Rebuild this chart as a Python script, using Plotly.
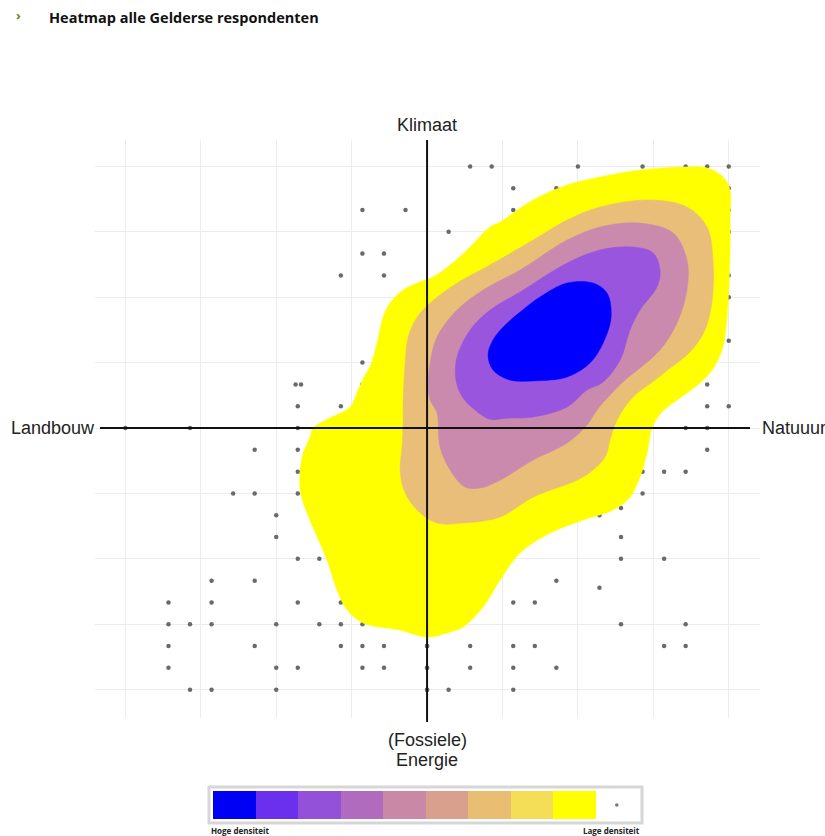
import plotly.graph_objects as go

# ---------------- data ----------------
# respondent dots (x: Landbouw(-) .. Natuur(+), y: Energie(-) .. Klimaat(+))
dots_x = [-3, -1, -3, -2, -4, -2, -3, -6.1, -5.85, -3, -6, -4, -14, -11, -6,
          2, 3, 7, 10, 12, 13, 14, 4, 6, 14, 4, 14, 1, 14, 14, 14, 14, 13, 13, 14, 12, 13,
          13, 10, 11, 12, 10, 9, 8, 9, 9, 11, 6, 8, 4, 5, 9, 12, 0, 2, 4, 5, 11, 12,
          0, 2, 4, 6, 0, 1, 4,
          -8, -6, -6, -9, -8, -6, -7, -7, -6, -5, -10, -8, -12, -10, -6, -4,
          -12, -11, -10, -7, -5, -4, -3, -12, -8, -4, -3, -2, 0,
          -12, -7, -6, -3, -2, 0, -11, -10, -7, 0]
dots_y = [10, 10, 8, 8, 7, 7, 3, 2, 2, 2, 1, 1, 0, 0, 0,
          12, 12, 12, 12, 12, 12, 12, 11, 11, 11, 10, 10, 9, 9, 7, 6, 4, 2, 1, 1, 0, 0,
          -1, -2, -2, -2, -3, -3.67, -4, -5, -6, -6, -7, -7.33, -8, -8, -9, -9, -10, -10, -10, -10, -10, -10,
          -11, -11, -11, -11, -12, -12, -12,
          -1, -1, -2, -3, -3, -3, -4, -5, -6, -6, -7, -7, -8, -8, -8, -8,
          -9, -9, -9, -9, -9, -9, -9, -10, -10, -10, -10, -10, -10,
          -11, -11, -11, -11, -11, -11, -12, -12, -12, -12]

# density contour outlines (low -> high density)
yellow_x = [-3.57, -3.20, -2.88, -2.65, -2.32, -2.04, -1.72, -1.11, -0.46, 0.28, 1.07, 1.86, 2.92, 3.39,
            4.92, 6.50, 8.03, 9.88, 11.88, 12.99, 13.74, 14.06, 14.06, 14.06, 13.92, 13.69, 13.23,
            12.67, 11.74, 10.90, 10.44, 10.21, 9.88, 9.42, 8.63, 7.24, 5.71, 4.32, 3.39, 2.60, 1.67,
            0.93, 0.05, -1.25, -2.97, -3.71, -4.18, -4.64, -5.10, -5.57, -5.89, -5.80, -5.43, -5.29,
            -4.50, -3.57]
yellow_y = [0.96, 1.74, 2.43, 2.80, 3.90, 5.09, 5.73, 6.33, 6.65, 6.93, 7.48, 8.17, 9.22, 9.45,
            10.46, 11.15, 11.51, 11.83, 11.97, 11.93, 11.51, 10.92, 9.68, 8.17, 5.09, 3.58, 2.66,
            2.06, 1.38, 0.73, 0.0, -1.15, -2.25, -3.17, -3.76, -4.22, -4.82, -5.73, -6.97, -8.21, -9.13,
            -9.40, -9.59, -9.27, -8.94, -8.35, -7.43, -6.06, -5.00, -3.90, -2.84, -1.33, -0.41, 0.0,
            0.46, 0.96]
tan_x = [-1.11, -1.02, -0.88, -0.46, 0.14, 1.39, 2.92, 4.92, 6.50, 8.03, 10.35, 12.06, 12.99, 13.27,
         13.23, 12.90, 12.20, 11.28, 10.58, 9.56, 8.82, 8.49, 8.26, 7.24, 4.92, 3.39, 1.67, 0.46,
         -0.32, -1.02, -1.25, -1.16, -1.11, -1.11]
tan_y = [1.28, 2.98, 4.17, 5.09, 5.73, 6.65, 7.48, 8.62, 9.54, 10.14, 10.46, 10.14, 9.22, 7.71,
         5.87, 4.50, 3.49, 2.75, 2.20, 1.42, 0.37, -0.55, -1.33, -2.25, -3.17, -4.08, -4.36, -4.36,
         -3.90, -2.98, -1.93, -0.87, 0.37, 1.28]
mauve_x = [0.05, 0.14, 0.46, 1.39, 2.60, 4.32, 6.50, 8.03, 9.88, 11.42, 12.06, 12.06, 11.60, 10.81,
           9.88, 9.19, 8.49, 7.89, 7.42, 6.50, 4.92, 3.39, 2.46, 1.76, 1.07, 0.60, 0.46, 0.14, 0.05]
mauve_y = [1.97, 2.98, 4.17, 5.41, 6.33, 7.25, 8.62, 9.22, 9.40, 8.94, 7.71, 6.33, 4.82, 3.58,
           2.75, 2.20, 1.51, 0.83, 0.14, -0.69, -1.47, -2.39, -2.75, -2.71, -1.93, -0.87, 0.69, 1.28, 1.97]
purple_x = [1.34, 1.39, 2.00, 2.92, 4.32, 6.50, 8.03, 9.56, 10.49, 10.81, 10.67, 9.88, 9.42, 8.96,
            8.17, 7.42, 6.50, 4.92, 3.70, 2.92, 2.20, 1.62, 1.34]
purple_y = [2.20, 3.26, 4.50, 5.41, 6.24, 7.57, 8.17, 8.30, 8.03, 7.25, 6.47, 5.41, 4.50, 3.12,
            2.11, 1.74, 0.96, 0.50, 0.45, 0.40, 0.85, 1.45, 2.20]
blue_x = [2.83, 3.06, 3.62, 4.32, 5.24, 6.50, 7.70, 8.35, 8.54, 8.17, 7.56, 6.50, 4.92, 3.85, 3.06, 2.83]
blue_y = [3.35, 4.04, 4.72, 5.32, 6.01, 6.65, 6.65, 6.19, 5.09, 3.90, 2.98, 2.34, 2.16, 2.20, 2.66, 3.35]

# legend scale (high density -> low density)
legend_cells = list(range(10))
legend_colors = ["#0000F5", "#6A30EE", "#9350D8", "#B06ABE", "#C888A6",
                 "#D9A08E", "#E9BD72", "#F4DE58", "#FFFF00", "#FFFFFF"]

contour_layers = [
    (yellow_x, yellow_y, "#FFFF00"),
    (tan_x, tan_y, "#E8BE78"),
    (mauve_x, mauve_y, "#C98AAE"),
    (purple_x, purple_y, "#9A55DE"),
    (blue_x, blue_y, "#0000FF"),
]

W, H = 825, 836
def px(x):
    return x / W
def py(y):
    return 1 - y / H

fig = go.Figure()

fig.add_trace(go.Scatter(x=dots_x, y=dots_y, mode="markers",
                         marker=dict(color="#6a6a6a", size=4.5), hoverinfo="skip",
                         showlegend=False))

for cx, cy, col in contour_layers:
    fig.add_trace(go.Scatter(x=cx, y=cy, mode="lines", fill="toself", fillcolor=col,
                             line=dict(color=col, width=0.5, shape="spline", smoothing=1.0),
                             hoverinfo="skip", showlegend=False))

# legend strip
n = len(legend_colors)
cscale = [[i / (n - 1), c] for i, c in enumerate(legend_colors)]
fig.add_trace(go.Heatmap(z=[legend_cells], x=legend_cells, y=[0], colorscale=cscale,
                         zmin=0, zmax=n - 1, showscale=False, hoverinfo="skip",
                         xaxis="x2", yaxis="y2"))
fig.add_trace(go.Scatter(x=[legend_cells[-1]], y=[0], mode="markers",
                         marker=dict(color="#777777", size=3.5), hoverinfo="skip",
                         showlegend=False, xaxis="x2", yaxis="y2"))

fig.update_layout(
    width=W, height=H,
    margin=dict(l=0, r=0, t=0, b=0),
    paper_bgcolor="white", plot_bgcolor="white",
    showlegend=False,
    xaxis=dict(domain=[px(95), px(760)], range=[-15.41, 15.45], tick0=0, dtick=3.5,
               showgrid=True, gridcolor="#ececec", gridwidth=1, zeroline=False,
               showticklabels=False, ticks="", showline=False, fixedrange=True),
    yaxis=dict(domain=[py(718), py(140)], range=[-13.30, 13.21], tick0=0, dtick=3,
               showgrid=True, gridcolor="#ececec", gridwidth=1, zeroline=False,
               showticklabels=False, ticks="", showline=False, fixedrange=True),
    xaxis2=dict(domain=[px(213), px(638)], range=[-0.5, 9.5], showgrid=False,
                zeroline=False, showticklabels=False, ticks="", anchor="y2"),
    yaxis2=dict(domain=[py(819), py(791)], range=[-0.5, 0.5], showgrid=False,
                zeroline=False, showticklabels=False, ticks="", anchor="x2"),
)

# cross axes
fig.add_shape(type="line", xref="paper", yref="y", x0=px(100), x1=px(750), y0=0, y1=0,
              line=dict(color="#111111", width=2), layer="above")
fig.add_shape(type="line", xref="x", yref="paper", x0=0, x1=0, y0=py(722), y1=py(140),
              line=dict(color="#111111", width=2), layer="above")
# legend border
fig.add_shape(type="rect", xref="paper", yref="paper", x0=px(209), x1=px(642),
              y0=py(823), y1=py(787), line=dict(color="#d6d6d6", width=3),
              fillcolor="rgba(0,0,0,0)", layer="above")

lab_font = dict(family="Liberation Sans, Arial", size=18, color="#222222")
fig.add_annotation(text="Klimaat", xref="paper", yref="paper", x=px(427), y=py(125),
                   showarrow=False, font=lab_font, xanchor="center", yanchor="middle")
fig.add_annotation(text="Landbouw", xref="paper", yref="paper", x=px(97), y=py(428),
                   showarrow=False, font=lab_font, xanchor="right", yanchor="middle")
fig.add_annotation(text="Natuuur", xref="paper", yref="paper", x=px(760), y=py(428),
                   showarrow=False, font=lab_font, xanchor="left", yanchor="middle")
fig.add_annotation(text="(Fossiele)", xref="paper", yref="paper", x=px(427), y=py(740),
                   showarrow=False, font=lab_font, xanchor="center", yanchor="middle")
fig.add_annotation(text="Energie", xref="paper", yref="paper", x=px(427), y=py(760),
                   showarrow=False, font=lab_font, xanchor="center", yanchor="middle")

fig.add_annotation(text="<b>›</b>", xref="paper", yref="paper", x=px(14), y=py(15),
                   showarrow=False, font=dict(family="Open Sans", size=13, color="#5b8f1e"),
                   xanchor="left", yanchor="middle")
fig.add_annotation(text="<b>Heatmap alle Gelderse respondenten</b>", xref="paper", yref="paper",
                   x=px(47), y=py(17), showarrow=False,
                   font=dict(family="Open Sans", size=14.5, color="#111111"),
                   xanchor="left", yanchor="middle")

small = dict(family="Open Sans", size=8, color="#222222")
fig.add_annotation(text="<b>Hoge densiteit</b>", xref="paper", yref="paper", x=px(209), y=py(830),
                   showarrow=False, font=small, xanchor="left", yanchor="middle")
fig.add_annotation(text="<b>Lage densiteit</b>", xref="paper", yref="paper", x=px(642), y=py(830),
                   showarrow=False, font=small, xanchor="right", yanchor="middle")

fig.write_html("out.html", config={"displayModeBar": False},
               post_script="document.body.style.margin='0px';")
